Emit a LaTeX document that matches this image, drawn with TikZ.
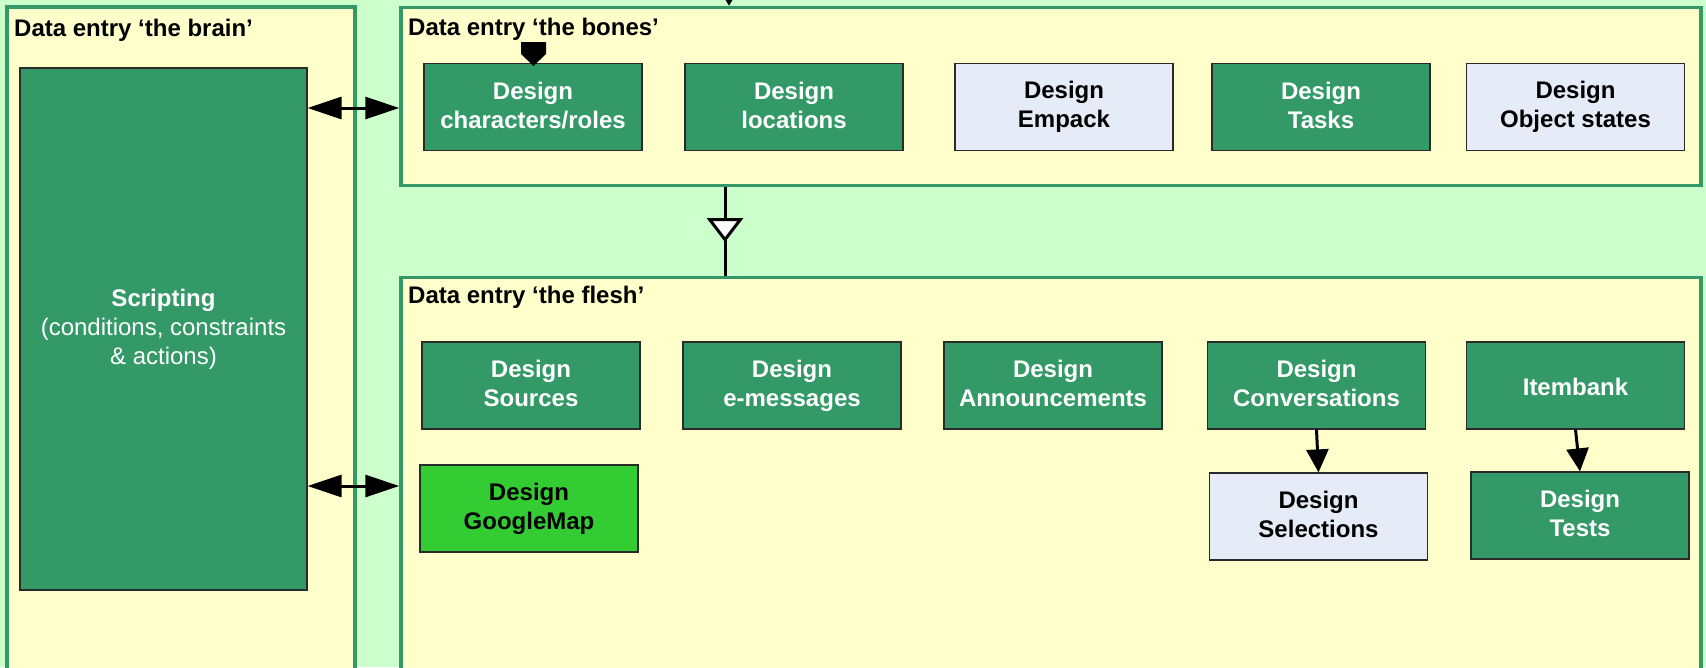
\documentclass[tikz,border=0pt]{standalone}
\usepackage{fontspec}
\setmainfont{Liberation Sans}
\usetikzlibrary{arrows.meta,decorations.markings}
\definecolor{leaf}{HTML}{CCFFCC}
\definecolor{cream}{HTML}{FFFFCC}
\definecolor{sea}{HTML}{339966}
\definecolor{lime}{HTML}{33CC33}
\definecolor{pale}{HTML}{E5ECF8}
\definecolor{edge}{HTML}{2A2A2A}
\newcommand\fullstrut{\rule[-4.3pt]{0pt}{29pt}}
\begin{document}
\begin{tikzpicture}[x=1pt,y=-1pt]
\tikzstyle{every node}+=[inner sep=0pt,font=\fontsize{24}{29}\selectfont]
\tikzstyle{frame}=[draw=sea,fill=cream,line width=3.5pt]
\tikzstyle{title}=[anchor=base west,font=\fontsize{24}{29}\selectfont\bfseries]
\tikzstyle{sbox}=[draw=edge,line width=1.2pt,fill=sea,text=white,align=center,font=\fontsize{24}{29}\selectfont\bfseries,minimum width=218pt,minimum height=87pt,execute at begin node=\fullstrut,execute at end node=\fullstrut]
\tikzstyle{pbox}=[sbox,fill=pale,text=black]
\tikzstyle{gbox}=[sbox,fill=lime,text=black]
\tikzstyle{link}=[line width=3pt,-{Triangle[length=23pt,width=22pt]}]
\tikzstyle{both}=[line width=3pt,{Triangle[length=34pt,width=22pt]}-{Triangle[length=34pt,width=22pt]}]
\useasboundingbox (0,0) rectangle (1706,667);
\clip (0,0) rectangle (1706,667);
\fill[leaf] (0,0) rectangle (1706,667);
\node[frame,minimum width=348pt,minimum height=693pt] (brain) at (181,353.5) {};
\node[frame,minimum width=1300pt,minimum height=178pt] (bones) at (1051,96.5) {};
\node[frame,minimum width=1300pt,minimum height=422.5pt] (flesh) at (1051,488.75) {};
\node[title] (brainT) at (14,36) {Data entry ‘the brain’};
\node[title] (bonesT) at (408,35) {Data entry ‘the bones’};
\node[title] (fleshT) at (408,303) {Data entry ‘the flesh’};
\node[sbox,minimum width=287pt,minimum height=522pt,font=\fontsize{24}{29}\selectfont] (scr) at (163.5,329) {\textbf{Scripting}\\(conditions, constraints\\\& actions)};
\node[sbox] (cha) at (533,107) {Design\\characters/roles};
\node[sbox] (loc) at (794,107) {Design\\locations};
\node[pbox] (emp) at (1064,107) {Design\\Empack};
\node[sbox] (tsk) at (1321,107) {Design\\Tasks};
\node[pbox] (obj) at (1575.5,107) {Design\\Object states};
\node[sbox] (src) at (531,385.5) {Design\\Sources};
\node[sbox] (msg) at (792,385.5) {Design\\e-messages};
\node[sbox] (ann) at (1053,385.5) {Design\\Announcements};
\node[sbox] (con) at (1316.5,385.5) {Design\\Conversations};
\node[sbox] (itm) at (1575.5,385.5) {Itembank};
\node[gbox] (gmap) at (529,508.5) {Design\\GoogleMap};
\node[pbox] (sel) at (1318.5,516.5) {Design\\Selections};
\node[sbox] (tst) at (1580,515.5) {Design\\Tests};
\coordinate (row1) at (0,108);
\coordinate (row2) at (0,486);
\coordinate (mid) at (725,0);
\coordinate (top) at (729,-30);
\coordinate (tag) at (533.5,42);
\draw[both] (scr.east |- row1) -- (bones.west |- row1);
\draw[both] (scr.east |- row2) -- (flesh.west |- row2);
\draw[link] (con.south) -- (sel.north);
\draw[link] (itm.south) -- (tst.north);
\draw[line width=3pt,postaction={decorate},decoration={markings,mark=at position 0.62 with {\arrow{Triangle[length=24pt,width=36pt,fill=white]}}}] (bones.south -| mid) -- (flesh.north -| mid);
\draw[line width=2pt,-{Triangle[length=12pt,width=14pt]}] (top) -- (bones.north -| top);
\fill (tag) ++(-12.5,0) -- ++(25,0) -- ++(0,12) -- ++(-12.5,12) -- ++(-12.5,-12) -- cycle;
\end{tikzpicture}
\end{document}
